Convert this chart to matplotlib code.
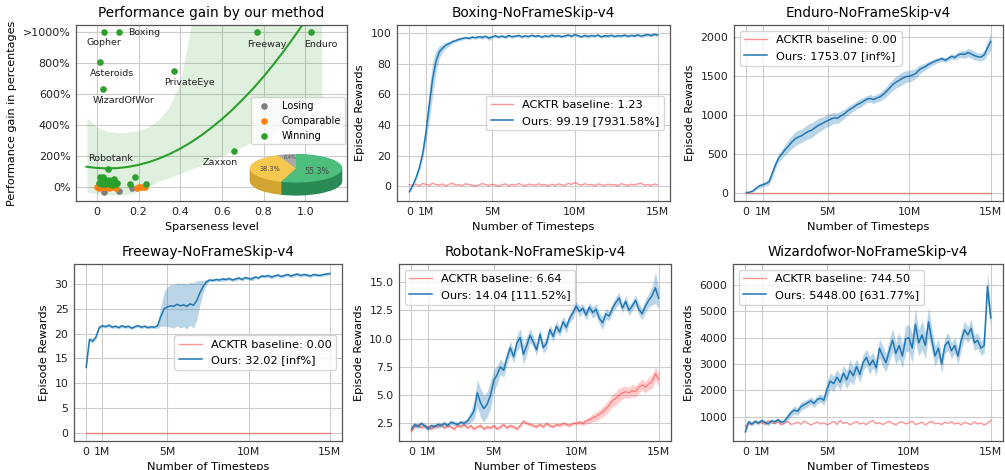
import numpy as np
import matplotlib.pyplot as plt
from matplotlib.ticker import MultipleLocator

plt.rcParams['font.family'] = 'DejaVu Sans'

# ---------------- panel 1: performance gain scatter ----------------
win_x = [0.034, 0.107, 0.766, 1.029, 0.013, 0.37, 0.029, 0.053, 0.658,
         0.016, 0.032, 0.056, 0.08, 0.096, 0.012, 0.027, 0.04, 0.064,
         0.072, 0.09, 0.02, 0.045, 0.03, 0.181, 0.161, 0.235]
win_y = [1000, 1000, 1000, 1000, 806, 751, 631, 115, 233,
         65, 48, 43, 48, 26, 22, 15, 15, 20,
         13, 15, 35, 30, 60, 65, 15, 15]
comp_x = [0.0, 0.008, 0.016, 0.024, 0.032, 0.04, 0.048, 0.056, 0.064,
          0.072, 0.085, 0.02, 0.06, 0.09, 0.192, 0.2, 0.216, 0.23]
comp_y = [-4, -6, -5, -3, -5, -2, -4, -6, 0,
          -3, 0, 2, 3, -6, -10, -4, 0, -2]
lose_x = [0.032, 0.106, 0.171]
lose_y = [-36, -27, -12]

game_names = ['Gopher', 'Boxing', 'Freeway', 'Enduro', 'Asteroids',
              'PrivateEye', 'WizardOfWor', 'Robotank', 'Zaxxon']
name_pos = [(0.034, 933), (0.152, 1000), (0.816, 918), (1.072, 918), (0.072, 730),
            (0.445, 674), (0.13, 555), (0.065, 184), (0.594, 155)]

fit_x = [-0.05, 0.0, 0.05, 0.1, 0.15, 0.2, 0.25, 0.3, 0.35, 0.4, 0.45, 0.5,
         0.55, 0.6, 0.65, 0.7, 0.75, 0.8, 0.85, 0.9, 0.95, 1.0, 1.05]
fit_y = [129, 121, 118, 120, 128, 141, 159, 183, 212, 246, 286, 331,
         382, 437, 498, 565, 636, 713, 796, 884, 977, 1075, 1179]
band_x = [-0.045, 0.0, 0.05, 0.1, 0.15, 0.2, 0.25, 0.3, 0.35, 0.4, 0.43, 0.46,
          0.5, 0.6, 0.7, 0.8, 0.9, 1.0, 1.08]
band_hi = [443, 385, 355, 345, 348, 358, 385, 430, 515, 660, 860, 1080,
           1400, 2000, 2500, 3000, 3500, 4000, 4400]
band_lo = [-40, -48, -55, -58, -55, -35, -5, 30, 55, 80, 95, 110,
           135, 195, 255, 320, 390, 470, 540]

pie_sizes = [55.3, 38.3, 6.4]
pie_labels = ['55.3%', '38.3%', '6.4%']

# ---------------- learning curves (every 0.2M steps) ----------------
steps = np.arange(76) * 0.2e6

boxing_ours = [-3.6, 0.5, 5.5, 12.0, 21.0, 35.0, 53.0, 70.0, 81.0, 87.5,
               90.0, 92.0, 93.0, 94.2, 95.0, 95.8, 96.3, 96.9, 96.4, 97.2,
               96.8, 97.5, 97.0, 97.8, 96.5, 97.4, 98.0, 97.3, 97.9, 97.1,
               98.2, 97.5, 97.8, 98.3, 97.4, 98.0, 97.6, 98.4, 97.7, 98.1,
               97.3, 98.0, 97.6, 98.5, 97.8, 98.2, 97.5, 98.0, 98.6, 97.7,
               98.9, 98.1, 97.4, 98.3, 97.6, 98.2, 97.9, 98.5, 97.4, 98.1,
               97.8, 98.4, 97.6, 98.2, 97.9, 98.5, 97.7, 98.3, 98.0, 98.6,
               97.9, 98.4, 98.9, 98.2, 99.0, 98.6]
boxing_ours_sd = [0.8, 1.0, 1.5, 2.0, 3.0, 6.0, 10.0, 11.0, 7.0, 4.0,
                  2.5, 2.0, 1.5, 1.2, 1.0, 1.0, 1.0, 0.9, 1.0, 0.9,
                  1.0, 0.9, 1.2, 0.9, 1.5, 1.0, 0.9, 1.0, 0.8, 1.0,
                  0.9, 1.0, 0.8, 1.0, 0.9, 1.1, 0.8, 0.9, 1.0, 0.8,
                  1.0, 0.9, 0.8, 1.1, 0.9, 1.0, 0.8, 0.9, 1.0, 0.9,
                  1.0, 0.8, 0.9, 1.0, 1.1, 0.9, 0.8, 1.0, 0.9, 1.0,
                  0.9, 1.0, 0.8, 1.0, 0.9, 1.1, 0.8, 0.9, 1.0, 0.8,
                  0.9, 1.0, 0.8, 1.0, 0.9, 1.0]
boxing_base = [1.0, 0.6, 1.4, 0.3, 1.8, 1.2, 0.5, 2.0, 1.1, 0.7,
               1.5, 0.2, 1.3, 1.9, 0.8, 1.0, 0.4, 1.6, 1.2, 0.6,
               0.1, 0.9, 1.7, 1.1, 0.5, 1.3, 0.8, 0.2, 1.0, 1.5,
               0.4, 1.2, 0.7, 1.8, 0.9, 0.3, 1.4, 1.0, 0.6, 1.6,
               0.8, 1.1, 0.2, 1.3, 0.7, 1.5, 1.0, 0.5, 1.9, 1.2,
               2.4, 1.3, 0.7, 1.6, 0.9, 1.2, 0.4, 1.5, 1.0, 0.6,
               1.4, 0.8, 1.1, 0.3, 1.7, 1.0, 0.6, 1.3, 0.9, 1.5,
               2.0, 0.7, 1.2, 0.5, 1.4, 1.0]

enduro_ours = [0, 5, 20, 55, 85, 100, 115, 140, 250, 360,
               450, 500, 555, 600, 650, 690, 715, 730, 760, 785,
               800, 830, 860, 880, 905, 925, 945, 960, 955, 985,
               1010, 1045, 1075, 1100, 1130, 1150, 1175, 1200, 1210, 1195,
               1215, 1230, 1260, 1300, 1345, 1390, 1420, 1445, 1470, 1490,
               1495, 1510, 1530, 1575, 1600, 1620, 1650, 1670, 1690, 1705,
               1720, 1700, 1725, 1750, 1735, 1770, 1780, 1775, 1800, 1780,
               1760, 1745, 1740, 1770, 1860, 1940]
enduro_ours_sd = [5, 10, 15, 20, 25, 30, 30, 40, 60, 50,
                  50, 60, 70, 80, 85, 90, 90, 85, 90, 95,
                  95, 90, 90, 85, 80, 80, 75, 70, 70, 65,
                  60, 55, 55, 50, 50, 55, 50, 45, 50, 50,
                  50, 55, 60, 65, 70, 75, 75, 80, 80, 75,
                  75, 70, 65, 60, 50, 45, 40, 35, 35, 30,
                  30, 30, 30, 35, 35, 40, 45, 50, 55, 55,
                  55, 50, 50, 60, 90, 110]
enduro_base = [0.0] * 76

freeway_ours = [13.2, 18.8, 18.5, 19.3, 21.2, 21.6, 21.4, 21.7, 21.3, 21.5,
                21.2, 21.6, 21.3, 21.5, 21.1, 21.4, 21.6, 21.3, 21.5, 21.2,
                21.4, 21.3, 21.6, 23.5, 25.0, 25.4, 25.6, 25.5, 25.9, 25.6,
                25.8, 25.5, 26.0, 25.7, 26.6, 28.2, 29.5, 30.4, 30.8, 30.7,
                30.9, 30.8, 31.0, 30.9, 31.1, 30.8, 31.0, 31.2, 30.9, 31.3,
                31.1, 31.0, 31.4, 31.2, 31.6, 31.5, 31.7, 31.4, 31.6, 31.8,
                31.5, 31.7, 31.9, 31.6, 31.8, 32.0, 31.7, 31.9, 31.8, 31.6,
                31.9, 31.8, 31.7, 31.9, 32.0, 32.1]
freeway_ours_sd = [0.3, 0.5, 0.4, 0.4, 0.3, 0.3, 0.3, 0.3, 0.3, 0.3,
                   0.3, 0.3, 0.3, 0.3, 0.3, 0.3, 0.3, 0.3, 0.3, 0.3,
                   0.3, 0.3, 0.5, 2.0, 3.5, 4.0, 4.3, 4.4, 4.3, 4.5,
                   4.4, 4.5, 4.3, 4.6, 4.0, 2.5, 1.2, 0.5, 0.3, 0.3,
                   0.3, 0.3, 0.4, 0.3, 0.3, 0.3, 0.4, 0.3, 0.3, 0.3,
                   0.3, 0.4, 0.3, 0.3, 0.3, 0.3, 0.3, 0.4, 0.3, 0.3,
                   0.3, 0.3, 0.3, 0.3, 0.4, 0.3, 0.3, 0.3, 0.3, 0.3,
                   0.3, 0.3, 0.3, 0.3, 0.3, 0.3]
freeway_base = [0.0] * 76

robotank_ours = [2.0, 2.4, 2.2, 2.5, 2.3, 2.0, 2.3, 2.2, 2.4, 2.3,
                 2.5, 2.3, 2.6, 2.5, 2.4, 2.6, 2.5, 2.7, 3.1, 3.6,
                 5.2, 4.3, 3.8, 4.2, 5.0, 6.3, 6.8, 7.5, 7.2, 8.3,
                 9.2, 8.4, 9.6, 10.1, 8.6, 9.4, 10.3, 9.7, 9.0, 10.4,
                 9.2, 9.6, 10.8, 10.2, 11.1, 10.6, 11.5, 11.0, 11.8, 12.3,
                 12.9, 12.4, 12.7, 12.1, 12.8, 12.3, 12.6, 11.8, 11.4, 12.2,
                 12.0, 12.7, 13.2, 13.6, 12.7, 13.3, 12.5, 12.9, 13.4, 12.6,
                 12.2, 12.9, 13.4, 13.8, 14.5, 13.6]
robotank_ours_sd = [0.2, 0.2, 0.2, 0.2, 0.2, 0.2, 0.2, 0.2, 0.2, 0.2,
                    0.2, 0.2, 0.2, 0.2, 0.2, 0.2, 0.25, 0.3, 0.5, 0.8,
                    1.2, 1.3, 1.2, 1.1, 1.2, 1.0, 0.8, 0.7, 0.6, 0.6,
                    0.6, 0.6, 0.7, 0.8, 0.9, 0.8, 0.6, 0.5, 0.5, 0.5,
                    0.5, 0.5, 0.4, 0.5, 0.5, 0.4, 0.5, 0.5, 0.4, 0.5,
                    0.4, 0.5, 0.4, 0.5, 0.4, 0.5, 0.5, 0.5, 0.6, 0.5,
                    0.4, 0.4, 0.5, 0.5, 0.4, 0.5, 0.5, 0.4, 0.5, 0.5,
                    0.5, 0.6, 0.6, 0.8, 1.4, 0.9]
robotank_base = [1.8, 2.2, 2.4, 2.1, 2.3, 2.2, 2.0, 2.3, 2.2, 2.4,
                 2.1, 2.3, 2.2, 2.0, 2.3, 2.2, 2.4, 2.1, 2.3, 2.0,
                 2.2, 2.3, 2.0, 2.2, 2.1, 2.3, 2.0, 2.2, 2.4, 2.1,
                 2.3, 2.2, 2.0, 2.3, 2.7, 2.5, 2.4, 2.3, 2.2, 2.4,
                 2.2, 2.5, 2.3, 2.2, 2.4, 2.3, 2.5, 2.4, 2.3, 2.5,
                 2.5, 2.6, 2.5, 2.7, 2.8, 3.0, 3.1, 3.3, 3.5, 3.8,
                 4.1, 4.5, 4.7, 5.0, 5.2, 5.3, 5.2, 5.4, 5.3, 5.7,
                 5.9, 5.7, 6.0, 6.2, 6.9, 6.4]
robotank_base_sd = [0.15, 0.15, 0.15, 0.15, 0.15, 0.15, 0.15, 0.15, 0.15, 0.15,
                    0.15, 0.15, 0.15, 0.15, 0.15, 0.15, 0.15, 0.15, 0.15, 0.15,
                    0.15, 0.15, 0.15, 0.15, 0.15, 0.15, 0.15, 0.15, 0.15, 0.15,
                    0.15, 0.15, 0.15, 0.15, 0.15, 0.15, 0.15, 0.15, 0.15, 0.15,
                    0.15, 0.15, 0.15, 0.15, 0.15, 0.15, 0.15, 0.15, 0.15, 0.15,
                    0.15, 0.2, 0.2, 0.25, 0.3, 0.35, 0.4, 0.4, 0.45, 0.5,
                    0.5, 0.55, 0.6, 0.6, 0.55, 0.5, 0.5, 0.55, 0.5, 0.5,
                    0.5, 0.5, 0.55, 0.6, 0.6, 0.6]

wizard_ours = [420, 800, 720, 820, 760, 850, 780, 730, 840, 800,
               880, 780, 830, 1000, 1150, 1250, 1200, 1380, 1450, 1520,
               1600, 1500, 1650, 1700, 1620, 2050, 2350, 2250, 2500, 2300,
               2650, 2400, 2750, 2550, 2900, 2600, 3050, 3250, 2950, 3150,
               2850, 3600, 3300, 3050, 3500, 3900, 3400, 3700, 3300, 3950,
               4000, 3600, 4500, 3800, 4100, 3700, 4600, 3900, 3300, 3600,
               3000, 3700, 3850, 3500, 3700, 3300, 3900, 4300, 4100, 4350,
               3800, 3900, 3600, 3700, 5950, 4750]
wizard_ours_sd = [40, 100, 80, 80, 80, 80, 80, 80, 80, 80,
                  80, 80, 100, 120, 150, 150, 150, 160, 150, 150,
                  150, 150, 160, 150, 200, 300, 300, 300, 280, 300,
                  300, 350, 400, 350, 300, 300, 300, 320, 350, 300,
                  300, 350, 400, 350, 400, 450, 400, 500, 450, 500,
                  500, 550, 600, 500, 550, 500, 550, 450, 400, 350,
                  350, 300, 350, 300, 300, 300, 350, 350, 300, 350,
                  300, 300, 250, 300, 540, 350]
wizard_base = [620, 760, 700, 820, 740, 780, 700, 850, 760, 730,
               800, 690, 760, 820, 700, 740, 790, 710, 830, 760,
               680, 740, 800, 720, 770, 690, 750, 820, 700, 860,
               740, 780, 690, 750, 810, 720, 760, 700, 790, 850,
               730, 770, 700, 760, 820, 740, 690, 780, 800, 720,
               760, 830, 700, 740, 790, 680, 770, 820, 730, 750,
               700, 790, 740, 810, 720, 760, 690, 780, 740, 700,
               800, 720, 760, 690, 740, 850]

BLUE = '#1f77b4'
RED = '#ff3b3b'
GRID = '#cccccc'
EDGE = '#555555'


def style_axes(ax, tick_size=7.8):
    ax.grid(True, color=GRID, lw=0.8)
    ax.set_axisbelow(True)
    for s in ax.spines.values():
        s.set_color(EDGE)
        s.set_linewidth(0.9)
    ax.tick_params(length=0, pad=4, labelsize=tick_size, colors='#222222')


def draw_run(ax, title, ours, ours_sd, base, base_sd, base_lbl, ours_lbl, loc):
    ours = np.array(ours, dtype=float)
    ours_sd = np.array(ours_sd, dtype=float)
    base = np.array(base, dtype=float)
    ax.plot(steps, base, color=RED, alpha=0.55, lw=1.0, label=base_lbl)
    if base_sd is not None:
        base_sd = np.array(base_sd, dtype=float)
        ax.fill_between(steps, base - base_sd, base + base_sd, color=RED, alpha=0.25, lw=0)
    ax.plot(steps, ours, color=BLUE, lw=1.1, label=ours_lbl)
    ax.fill_between(steps, ours - ours_sd, ours + ours_sd, color=BLUE, alpha=0.3, lw=0)
    ax.set_xticks([0, 1e6, 5e6, 10e6, 15e6])
    ax.set_xticklabels(['0', '1M', '5M', '10M', '15M'])
    ax.set_title(title, fontsize=9.8)
    ax.set_xlabel('Number of Timesteps', fontsize=8.2)
    ax.set_ylabel('Episode Rewards', fontsize=8.2)
    style_axes(ax)
    ax.legend(loc=loc, fontsize=8.2, framealpha=0.8)


fig = plt.figure(figsize=(10.05, 4.70), dpi=100)
W, H = 1005.0, 470.0


def px_axes(left, top, right, bottom):
    return fig.add_axes([left / W, 1 - bottom / H, (right - left) / W, (bottom - top) / H])


# ---- panel 1 ----
ax0 = px_axes(76, 25, 347, 201)
ax0.fill_between(band_x, band_lo, band_hi, color='#2ca02c', alpha=0.15, lw=0)
ax0.plot(fit_x, fit_y, color='#2ca02c', lw=1.5)
ax0.scatter(lose_x, lose_y, s=14, color='#7f7f7f', label='Losing', zorder=3)
ax0.scatter(comp_x, comp_y, s=14, color='#ff7f0e', label='Comparable', zorder=3)
ax0.scatter(win_x, win_y, s=14, color='#2ca02c', label='Winning', zorder=3)
for name, (nx, ny) in zip(game_names, name_pos):
    ha = 'left' if name == 'Boxing' else 'center'
    ax0.text(nx, ny, name, fontsize=6.8, ha=ha, va='center', color='#222222')
ax0.set_xlim(-0.1, 1.2)
ax0.set_ylim(-93, 1047)
ax0.set_xticks([0, 0.2, 0.4, 0.6, 0.8, 1.0])
ax0.set_xticklabels(['0', '0.2', '0.4', '0.6', '0.8', '1.0'])
ax0.set_yticks([0, 200, 400, 600, 800, 1000])
ax0.set_yticklabels(['0%', '200%', '400%', '600%', '800%', '>1000%'])
ax0.set_title('Performance gain by our method', fontsize=9.8)
ax0.set_xlabel('Sparseness level', fontsize=8)
ax0.set_ylabel('Performance gain in percentages', fontsize=8)
style_axes(ax0, tick_size=8)
ax0.legend(loc='center right', bbox_to_anchor=(1.0, 0.456), fontsize=7,
           borderaxespad=0.2, framealpha=0.8, handletextpad=0.8)

# 3d-looking pie inset
axp = px_axes(248, 152, 344, 198)
top_cols = ['#4ebe7d', '#f5c850', '#aaaaaa']
side_cols = ['#2a8a55', '#d2a532', '#8a8a8a']
for d in np.linspace(0.91, 0.02, 24):
    axp.pie(pie_sizes, colors=side_cols, startangle=90, counterclock=False,
            center=(0, -d), radius=1, wedgeprops=dict(lw=0))
axp.pie(pie_sizes, colors=top_cols, startangle=90, counterclock=False,
        center=(0, 0), radius=1, wedgeprops=dict(lw=0))
axp.set_aspect('auto')
axp.set_xlim(-1.04, 1.04)
axp.set_ylim(-2.08, 1.14)
axp.axis('off')
label_pos = [(0.45, -0.19), (-0.56, -0.07), (-0.12, 0.77)]
label_size = [5.7, 4.7, 3.6]
for lbl, (lx, ly), fs in zip(pie_labels, label_pos, label_size):
    axp.text(lx, ly, lbl, fontsize=fs, ha='center', va='center', color='#444444')

# ---- learning curve panels ----
ax1 = px_axes(397, 25, 670, 201)
draw_run(ax1, 'Boxing-NoFrameSkip-v4', boxing_ours, boxing_ours_sd, boxing_base, None,
         'ACKTR baseline: 1.23', 'Ours: 99.19 [7931.58%]', 'center right')

ax2 = px_axes(734, 25, 1003, 201)
draw_run(ax2, 'Enduro-NoFrameSkip-v4', enduro_ours, enduro_ours_sd, enduro_base, None,
         'ACKTR baseline: 0.00', 'Ours: 1753.07 [inf%]', 'upper left')

ax3 = px_axes(74, 264, 342, 441)
draw_run(ax3, 'Freeway-NoFrameSkip-v4', freeway_ours, freeway_ours_sd, freeway_base, None,
         'ACKTR baseline: 0.00', 'Ours: 32.02 [inf%]', 'center right')

ax4 = px_axes(399, 264, 671, 441)
draw_run(ax4, 'Robotank-NoFrameSkip-v4', robotank_ours, robotank_ours_sd, robotank_base,
         robotank_base_sd, 'ACKTR baseline: 6.64', 'Ours: 14.04 [111.52%]', 'upper left')
ax4.yaxis.set_major_locator(MultipleLocator(2.5))

ax5 = px_axes(733, 264, 1003, 441)
draw_run(ax5, 'Wizardofwor-NoFrameSkip-v4', wizard_ours, wizard_ours_sd, wizard_base, None,
         'ACKTR baseline: 744.50', 'Ours: 5448.00 [631.77%]', 'upper left')

fig.savefig('out.png', dpi=100)
